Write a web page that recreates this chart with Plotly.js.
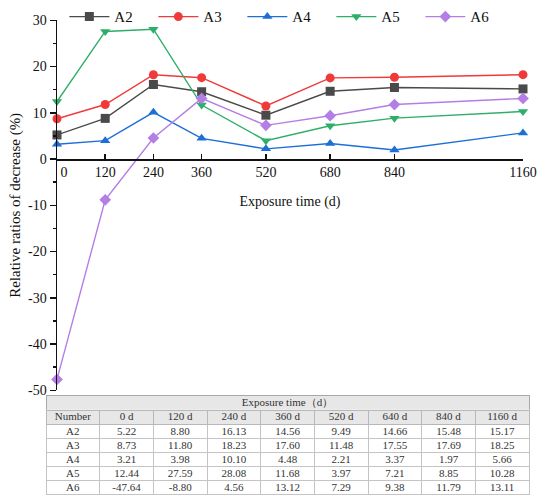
<!DOCTYPE html>
<html>
<head>
<meta charset="utf-8">
<script src="https://cdn.plot.ly/plotly-3.0.1.min.js"></script>
<style>html,body{margin:0;padding:0;background:#fff;}</style>
</head>
<body>
<div id="chart" style="width:550px;height:502px;"></div>
<script>
// ---- data ----
const exposureDays = [0, 120, 240, 360, 520, 680, 840, 1160];
const xTickLabels = ["0", "120", "240", "360", "520", "680", "840", "1160"];
const yTickValues = [-50, -40, -30, -20, -10, 0, 10, 20, 30];
const yTickLabels = ["-50", "-40", "-30", "-20", "-10", "0", "10", "20", "30"];
const seriesNames = ["A2", "A3", "A4", "A5", "A6"];
const A2 = [5.22, 8.80, 16.13, 14.56, 9.49, 14.66, 15.48, 15.17];
const A3 = [8.73, 11.80, 18.23, 17.60, 11.48, 17.55, 17.69, 18.25];
const A4 = [3.21, 3.98, 10.10, 4.48, 2.21, 3.37, 1.97, 5.66];
const A5 = [12.44, 27.59, 28.08, 11.68, 3.97, 7.21, 8.85, 10.28];
const A6 = [-47.64, -8.80, 4.56, 13.12, 7.29, 9.38, 11.79, 13.11];
const tableTitle = "Exposure time（d）";
const tableColumns = ["Number", "0 d", "120 d", "240 d", "360 d", "520 d", "640 d", "840 d", "1160 d"];

// ---- styles ----
const serif = "Liberation Serif";
const styles = {
  A2: {color: "#4a4a4a", symbol: "square"},
  A3: {color: "#f03a3a", symbol: "circle"},
  A4: {color: "#1c6fd6", symbol: "triangle-up"},
  A5: {color: "#2fae6a", symbol: "triangle-down"},
  A6: {color: "#b37ee6", symbol: "diamond"}
};
const allSeries = {A2, A3, A4, A5, A6};

const W = 550, H = 502;
const plotL = 57, plotR = 523, plotT = 14.5, plotB = 389;
const yDom = [1 - plotB / H, 1 - plotT / H];
const yMin = -50, yMax = 30;
const xAxisPos = yDom[0] + (0 - yMin) / (yMax - yMin) * (yDom[1] - yDom[0]);

const traces = seriesNames.map(n => ({
  type: "scatter", mode: "lines+markers", name: n,
  x: exposureDays, y: allSeries[n],
  line: {color: styles[n].color, width: 1.4},
  marker: {color: styles[n].color, symbol: styles[n].symbol, size: 9},
  cliponaxis: false
}));

// ---- tables: grid/fill tables + text tables (text lifted to centre in the short rows) ----
const tX = [46 / W, 529 / W];
const titleTop = 394.5, headTop = 409, rowH = 14.5, cellH = 14;
const lift = 6.3;
const txtFont = {family: serif, size: 11, color: "#333"};
const none = "rgba(0,0,0,0)";
const cellCols = [seriesNames];
for (let i = 0; i < exposureDays.length; i++) {
  cellCols.push(seriesNames.map(n => allSeries[n][i].toFixed(2)));
}
const blankCols = cellCols.map(c => c.map(() => ""));

// grid for title row
traces.push({
  type: "table", domain: {x: tX, y: [1 - headTop / H, 1 - titleTop / H]},
  header: {values: [""], height: rowH, fill: {color: "#e7e7e7"}, line: {color: "#a8a8a8", width: 1}, font: txtFont},
  cells: {values: [[]], height: cellH}
});
// grid for column header + body
traces.push({
  type: "table", domain: {x: tX, y: [0, 1 - headTop / H]},
  header: {values: tableColumns.map(() => ""), height: rowH, fill: {color: "#e7e7e7"}, line: {color: "#b8b8b8", width: 1}, font: txtFont},
  cells: {values: blankCols, height: cellH, fill: {color: "#ffffff"}, line: {color: "#c4c4c4", width: 1}, font: txtFont}
});
// text for title row
traces.push({
  type: "table", domain: {x: tX, y: [0, 1 - (titleTop - lift) / H]},
  header: {values: [tableTitle], height: rowH, fill: {color: none}, line: {color: none, width: 0}, font: txtFont, align: "center"},
  cells: {values: [[]], height: cellH}
});
// text for column header + body
traces.push({
  type: "table", domain: {x: tX, y: [0, 1 - (headTop - lift) / H]},
  header: {values: tableColumns, height: rowH, fill: {color: none}, line: {color: none, width: 0}, font: txtFont, align: "center"},
  cells: {values: cellCols, height: cellH, fill: {color: none}, line: {color: none, width: 0}, font: txtFont, align: "center"}
});

const layout = {
  width: W, height: H,
  margin: {l: 0, r: 0, t: 0, b: 0},
  paper_bgcolor: "#fff", plot_bgcolor: "rgba(0,0,0,0)",
  font: {family: serif, size: 14, color: "#111"},
  showlegend: true,
  legend: {
    orientation: "h", x: 0.117, y: 1 - 11 / H, xanchor: "left", yanchor: "middle",
    font: {family: serif, size: 15, color: "#111"},
    bgcolor: "rgba(0,0,0,0)", entrywidth: 34, itemwidth: 40, tracegroupgap: 0
  },
  xaxis: {
    domain: [plotL / W, plotR / W],
    range: [0, 1160],
    anchor: "free", position: xAxisPos,
    showline: true, linecolor: "#111", linewidth: 1.5,
    showgrid: false, zeroline: false,
    ticks: "inside", ticklen: 5, tickwidth: 1.5, tickcolor: "#111",
    tickvals: exposureDays,
    ticktext: xTickLabels.map((t, i) => i === 0 ? "\u00a0\u00a0\u00a0\u00a0" + t : t),
    ticklabelstandoff: 0,
    tickfont: {family: serif, size: 14, color: "#111"},
    title: {text: "Exposure time (d)", font: {family: serif, size: 14, color: "#111"}, standoff: 17}
  },
  yaxis: {
    domain: yDom,
    range: [yMin, yMax],
    anchor: "x",
    showline: true, linecolor: "#111", linewidth: 1.5,
    showgrid: false, zeroline: false,
    ticks: "outside", ticklen: 6, tickwidth: 1.5, tickcolor: "#111",
    tickvals: yTickValues, ticktext: yTickLabels,
    minor: {dtick: 5, tick0: 0, ticks: "outside", ticklen: 3, tickwidth: 1.5, tickcolor: "#111", showgrid: false},
    tickfont: {family: serif, size: 14, color: "#111"},
    title: {text: "Relative ratios of decrease (%)", font: {family: serif, size: 15, color: "#111"}, standoff: 4}
  }
};

Plotly.newPlot("chart", traces, layout, {displayModeBar: false, staticPlot: true});
</script>
</body>
</html>
